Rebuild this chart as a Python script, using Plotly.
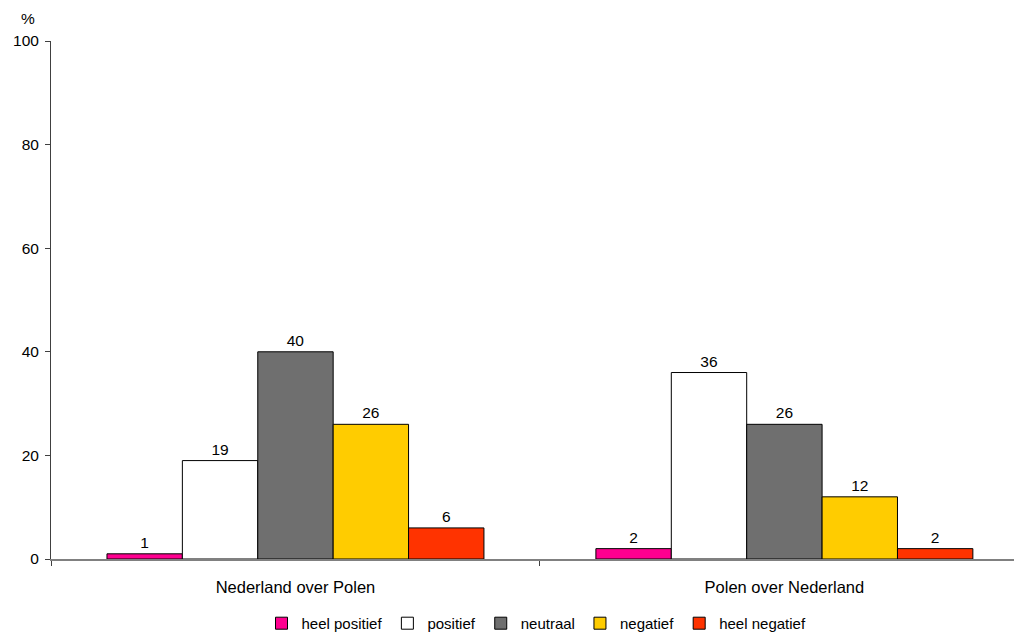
import plotly.graph_objects as go

categories = ["Nederland over Polen", "Polen over Nederland"]
series_names = ["heel positief", "positief", "neutraal", "negatief", "heel negatief"]
series_values = [
    [1, 2],
    [19, 36],
    [40, 26],
    [26, 12],
    [6, 2],
]
series_colors = ["#FF0090", "#FFFFFF", "#6F6F6F", "#FFCC00", "#FF3300"]
y_ticks = [0, 20, 40, 60, 80, 100]

fig = go.Figure()
for name, vals, color in zip(series_names, series_values, series_colors):
    fig.add_trace(go.Bar(
        x=categories,
        y=vals,
        name=name,
        marker=dict(color=color, line=dict(color="#000000", width=1)),
        text=[str(v) for v in vals],
        textposition="outside",
        textfont=dict(size=15.5, color="#000000"),
        cliponaxis=False,
    ))

# page has an 8px body margin, so the figure is sized/shifted to match
fig.update_layout(
    width=1014,
    height=628,
    margin=dict(l=43, r=0, t=33, b=77),
    paper_bgcolor="white",
    plot_bgcolor="white",
    font=dict(family="Liberation Sans, Arial, sans-serif", size=15.5, color="#000000"),
    barmode="group",
    bargap=0.229,
    bargroupgap=0,
    showlegend=True,
    legend=dict(
        orientation="h",
        x=0.5, xanchor="center",
        yref="container", y=0.02, yanchor="middle",
        font=dict(size=15),
        itemwidth=30,
        tracegroupgap=0,
    ),
    annotations=[dict(
        text="%", xref="paper", yref="paper",
        x=-0.024, y=1.044, xanchor="center", yanchor="middle",
        showarrow=False, font=dict(size=15.5),
    )],
)

fig.update_xaxes(
    range=[-0.5, 1.486],
    automargin=False,
    tickfont=dict(size=16.5),
    showline=True, linecolor="#808080", linewidth=2,
    ticks="outside", tickson="boundaries", ticklen=5, tickcolor="#404040",
    ticklabelstandoff=12,
    showgrid=False, zeroline=False,
)
fig.update_yaxes(
    range=[0, 100],
    automargin=False,
    tickvals=y_ticks,
    showline=True, linecolor="#404040", linewidth=1,
    ticks="outside", ticklen=5, tickcolor="#404040",
    ticklabelstandoff=3,
    showgrid=False, zeroline=False,
)

fig.write_html("out.html")
